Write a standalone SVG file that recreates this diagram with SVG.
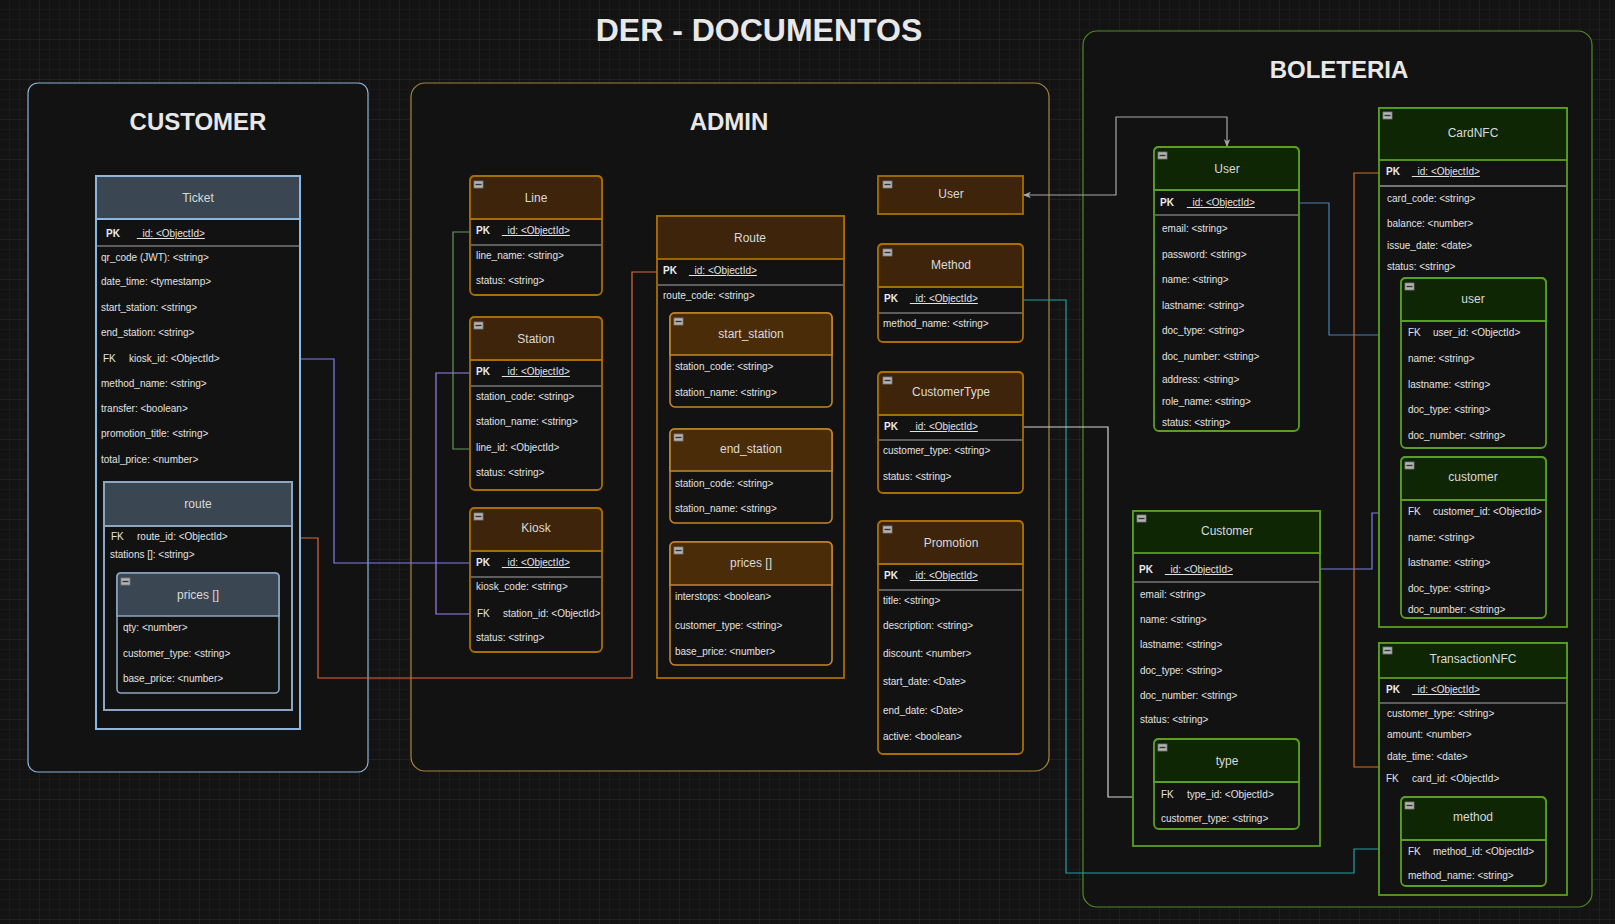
<svg xmlns="http://www.w3.org/2000/svg" width="1615" height="924" viewBox="0 0 1615 924">
<defs>
<pattern id="gmin" width="10" height="10" patternUnits="userSpaceOnUse"><path d="M10,0 V10 H0" fill="none" stroke="#1d1d1d" stroke-width="1"/></pattern>
<pattern id="gmaj" width="40" height="40" patternUnits="userSpaceOnUse"><rect width="40" height="40" fill="url(#gmin)"/><path d="M40,0 V40 H0" fill="none" stroke="#272727" stroke-width="1"/></pattern>
<marker id="arr" viewBox="0 0 10 10" refX="10" refY="5" markerWidth="8" markerHeight="8" markerUnits="userSpaceOnUse" orient="auto-start-reverse"><path d="M0,1 L10,5 L0,9 L3,5 z" fill="#a8a8a8"/></marker>
<g id="minus"><rect x="0" y="0" width="9" height="7" fill="#b4b4b4" stroke="#7a7a7a" stroke-width="0.8"/><line x1="1.5" y1="3.5" x2="7.5" y2="3.5" stroke="#333" stroke-width="1.4"/></g>
</defs>
<style>
text{font-family:"Liberation Sans",Arial,Helvetica,sans-serif}
.big{font-size:32px;font-weight:bold;fill:#e8e8e8;text-anchor:middle}
.sec{font-size:24px;font-weight:bold;fill:#e8e8e8;text-anchor:middle}
.h{font-size:12px;fill:#dadada;text-anchor:middle}
.r{font-size:10px;fill:#e2e2e2}
.pk{font-size:10px;fill:#ececec;font-weight:bold}
.u{text-decoration:underline}
.cont{fill:#121212;stroke-width:1.2}
.cbl{stroke:#8cb4dc;fill:#121212}
.cgo{stroke:#a8843c;fill:#121212}
.cgr{stroke:#4e8c20;fill:#121212}
.tb{fill:#121212;stroke:#8cb8e0;stroke-width:2}
.tbh{fill:#3a4651;stroke:#8cb8e0;stroke-width:2}
.ta{fill:#121212;stroke:#a86e00;stroke-width:1.8}
.tah{fill:#3d240a;stroke:#a86e00;stroke-width:1.8}
.ti{fill:#121212;stroke:#c4862c;stroke-width:1.6}
.tih{fill:#4a2c08;stroke:#c4862c;stroke-width:1.6}
.tg{fill:#121212;stroke:#5a9e22;stroke-width:1.8}
.tgh{fill:#0f2604;stroke:#5a9e22;stroke-width:1.8}
.sep{stroke:#a8a8a8;stroke-width:1.2}
.cn{fill:none;stroke-width:1.2}
</style>
<rect width="1615" height="924" fill="#131313"/>
<rect width="1615" height="924" fill="url(#gmaj)"/>

<text class="big" x="759" y="41">DER - DOCUMENTOS</text>

<g id="customer-container">
<rect class="cont cbl" x="28" y="83" width="340" height="689" rx="10"/>
<text class="sec" x="198" y="130">CUSTOMER</text>
</g>
<g id="admin-container">
<rect class="cont cgo" x="411" y="83" width="638" height="688" rx="14"/>
<text class="sec" x="729" y="130">ADMIN</text>
</g>
<g id="boleteria-container">
<rect class="cont cgr" x="1083" y="31" width="509" height="876" rx="14"/>
<text class="sec" x="1339" y="78">BOLETERIA</text>
</g>

<g id="connectors">
<path class="cn" stroke="#7c80ee" d="M300,359 H334 V563 H470"/>
<path class="cn" stroke="#e0683a" d="M292,538 H318 V678 H632 V272 H657"/>
<path class="cn" stroke="#66985a" d="M470,232 H453 V449 H470"/>
<path class="cn" stroke="#a07ef0" d="M470,373 H436 V614 H470"/>
<path class="cn" stroke="#a8a8a8" d="M1227,147 V117 H1116 V195 H1023" marker-start="url(#arr)" marker-end="url(#arr)"/>
<path class="cn" stroke="#22a0a0" d="M1023,300 H1066 V873 H1354 V849 H1401"/>
<path class="cn" stroke="#d4d4d4" d="M1023,427 H1108 V797 H1154"/>
<path class="cn" stroke="#4a82b4" d="M1299,203 H1329 V335 H1401"/>
<path class="cn" stroke="#7a80e4" d="M1320,569 H1372 V513 H1401"/>
<path class="cn" stroke="#d07020" d="M1379,173 H1354 V767 H1379"/>
</g>

<g id="ticket">
<rect class="tb" x="96" y="176" width="204" height="553"/>
<rect class="tbh" x="96" y="176" width="204" height="43"/>
<text class="h" x="198" y="202">Ticket</text>
<line class="sep" x1="97" y1="246" x2="299" y2="246"/>
<text class="pk" x="106" y="237">PK</text><text class="r u" x="137" y="237">_id: &lt;ObjectId&gt;</text>
<text class="r" x="101" y="261">qr_code (JWT): &lt;string&gt;</text>
<text class="r" x="101" y="285">date_time: &lt;tymestamp&gt;</text>
<text class="r" x="101" y="311">start_station: &lt;string&gt;</text>
<text class="r" x="101" y="336">end_station: &lt;string&gt;</text>
<text class="r" x="103" y="362">FK</text><text class="r" x="129" y="362">kiosk_id: &lt;ObjectId&gt;</text>
<text class="r" x="101" y="387">method_name: &lt;string&gt;</text>
<text class="r" x="101" y="412">transfer: &lt;boolean&gt;</text>
<text class="r" x="101" y="437">promotion_title: &lt;string&gt;</text>
<text class="r" x="101" y="463">total_price: &lt;number&gt;</text>
</g>
<g id="ticket-route">
<rect class="tb" x="104" y="482" width="188" height="228" style="stroke:#8aa6c0"/>
<rect class="tbh" x="104" y="482" width="188" height="44" style="stroke:#8aa6c0"/>
<text class="h" x="198" y="508">route</text>
<text class="r" x="111" y="540">FK</text><text class="r" x="137" y="540">route_id: &lt;ObjectId&gt;</text>
<text class="r" x="110" y="558">stations []: &lt;string&gt;</text>
</g>
<g id="ticket-route-prices">
<rect class="tb" x="117" y="573" width="162" height="120" rx="4" style="stroke:#8aa6c0;stroke-width:1.6"/>
<path d="M117,616 V577 Q117,573 121,573 H275 Q279,573 279,577 V616 Z" fill="#3a4651" stroke="#8aa6c0" stroke-width="1.6"/>
<use href="#minus" x="121" y="578"/>
<text class="h" x="198" y="599">prices []</text>
<text class="r" x="123" y="631">qty: &lt;number&gt;</text>
<text class="r" x="123" y="657">customer_type: &lt;string&gt;</text>
<text class="r" x="123" y="682">base_price: &lt;number&gt;</text>
</g>

<g id="line">
<rect class="ta" x="470" y="176" width="132" height="119" rx="5"/>
<path class="tah" d="M470,219 V181 Q470,176 475,176 H597 Q602,176 602,181 V219 Z"/>
<use href="#minus" x="474" y="181"/>
<text class="h" x="536" y="202">Line</text>
<line class="sep" x1="471" y1="245" x2="601" y2="245"/>
<text class="pk" x="476" y="234">PK</text><text class="r u" x="502" y="234">_id: &lt;ObjectId&gt;</text>
<text class="r" x="476" y="259">line_name: &lt;string&gt;</text>
<text class="r" x="476" y="284">status: &lt;string&gt;</text>
</g>
<g id="station">
<rect class="ta" x="470" y="317" width="132" height="173" rx="5"/>
<path class="tah" d="M470,360 V322 Q470,317 475,317 H597 Q602,317 602,322 V360 Z"/>
<use href="#minus" x="474" y="322"/>
<text class="h" x="536" y="343">Station</text>
<line class="sep" x1="471" y1="386" x2="601" y2="386"/>
<text class="pk" x="476" y="375">PK</text><text class="r u" x="502" y="375">_id: &lt;ObjectId&gt;</text>
<text class="r" x="476" y="400">station_code: &lt;string&gt;</text>
<text class="r" x="476" y="425">station_name: &lt;string&gt;</text>
<text class="r" x="476" y="451">line_id: &lt;ObjectId&gt;</text>
<text class="r" x="476" y="476">status: &lt;string&gt;</text>
</g>
<g id="kiosk">
<rect class="ta" x="470" y="508" width="132" height="144" rx="5"/>
<path class="tah" d="M470,551 V513 Q470,508 475,508 H597 Q602,508 602,513 V551 Z"/>
<use href="#minus" x="474" y="513"/>
<text class="h" x="536" y="532">Kiosk</text>
<line class="sep" x1="471" y1="577" x2="601" y2="577"/>
<text class="pk" x="476" y="566">PK</text><text class="r u" x="502" y="566">_id: &lt;ObjectId&gt;</text>
<text class="r" x="476" y="590">kiosk_code: &lt;string&gt;</text>
<text class="r" x="477" y="617">FK</text><text class="r" x="503" y="617">station_id: &lt;ObjectId&gt;</text>
<text class="r" x="476" y="641">status: &lt;string&gt;</text>
</g>

<g id="route">
<rect class="ta" x="657" y="216" width="187" height="462"/>
<rect class="tah" x="657" y="216" width="187" height="43"/>
<text class="h" x="750" y="242">Route</text>
<line class="sep" x1="658" y1="285" x2="843" y2="285"/>
<text class="pk" x="663" y="274">PK</text><text class="r u" x="689" y="274">_id: &lt;ObjectId&gt;</text>
<text class="r" x="663" y="299">route_code: &lt;string&gt;</text>
</g>
<g id="route-start-station">
<rect class="ti" x="670" y="313" width="162" height="94" rx="5"/>
<path class="tih" d="M670,355 V318 Q670,313 675,313 H827 Q832,313 832,318 V355 Z"/>
<use href="#minus" x="674" y="318"/>
<text class="h" x="751" y="338">start_station</text>
<text class="r" x="675" y="370">station_code: &lt;string&gt;</text>
<text class="r" x="675" y="396">station_name: &lt;string&gt;</text>
</g>
<g id="route-end-station">
<rect class="ti" x="670" y="429" width="162" height="94" rx="5"/>
<path class="tih" d="M670,471 V434 Q670,429 675,429 H827 Q832,429 832,434 V471 Z"/>
<use href="#minus" x="674" y="434"/>
<text class="h" x="751" y="453">end_station</text>
<text class="r" x="675" y="487">station_code: &lt;string&gt;</text>
<text class="r" x="675" y="512">station_name: &lt;string&gt;</text>
</g>
<g id="route-prices">
<rect class="ti" x="670" y="542" width="162" height="123" rx="5"/>
<path class="tih" d="M670,585 V547 Q670,542 675,542 H827 Q832,542 832,547 V585 Z"/>
<use href="#minus" x="674" y="547"/>
<text class="h" x="751" y="567">prices []</text>
<text class="r" x="675" y="600">interstops: &lt;boolean&gt;</text>
<text class="r" x="675" y="629">customer_type: &lt;string&gt;</text>
<text class="r" x="675" y="655">base_price: &lt;number&gt;</text>
</g>

<g id="admin-user">
<rect class="tah" x="878" y="176" width="145" height="38"/>
<use href="#minus" x="883" y="181"/>
<text class="h" x="951" y="198">User</text>
</g>
<g id="method">
<rect class="ta" x="878" y="244" width="145" height="98" rx="5"/>
<path class="tah" d="M878,287 V249 Q878,244 883,244 H1018 Q1023,244 1023,249 V287 Z"/>
<use href="#minus" x="883" y="249"/>
<text class="h" x="951" y="269">Method</text>
<line class="sep" x1="879" y1="313" x2="1022" y2="313"/>
<text class="pk" x="884" y="302">PK</text><text class="r u" x="910" y="302">_id: &lt;ObjectId&gt;</text>
<text class="r" x="883" y="327">method_name: &lt;string&gt;</text>
</g>
<g id="customertype">
<rect class="ta" x="878" y="372" width="145" height="121" rx="5"/>
<path class="tah" d="M878,415 V377 Q878,372 883,372 H1018 Q1023,372 1023,377 V415 Z"/>
<use href="#minus" x="883" y="377"/>
<text class="h" x="951" y="396">CustomerType</text>
<line class="sep" x1="879" y1="440" x2="1022" y2="440"/>
<text class="pk" x="884" y="430">PK</text><text class="r u" x="910" y="430">_id: &lt;ObjectId&gt;</text>
<text class="r" x="883" y="454">customer_type: &lt;string&gt;</text>
<text class="r" x="883" y="480">status: &lt;string&gt;</text>
</g>
<g id="promotion">
<rect class="ta" x="878" y="521" width="145" height="233" rx="5"/>
<path class="tah" d="M878,564 V526 Q878,521 883,521 H1018 Q1023,521 1023,526 V564 Z"/>
<use href="#minus" x="883" y="526"/>
<text class="h" x="951" y="547">Promotion</text>
<line class="sep" x1="879" y1="590" x2="1022" y2="590"/>
<text class="pk" x="884" y="579">PK</text><text class="r u" x="910" y="579">_id: &lt;ObjectId&gt;</text>
<text class="r" x="883" y="604">title: &lt;string&gt;</text>
<text class="r" x="883" y="629">description: &lt;string&gt;</text>
<text class="r" x="883" y="657">discount: &lt;number&gt;</text>
<text class="r" x="883" y="685">start_date: &lt;Date&gt;</text>
<text class="r" x="883" y="714">end_date: &lt;Date&gt;</text>
<text class="r" x="883" y="740">active: &lt;boolean&gt;</text>
</g>

<g id="bol-user">
<rect class="tg" x="1154" y="147" width="145" height="284" rx="5"/>
<path class="tgh" d="M1154,190 V152 Q1154,147 1159,147 H1294 Q1299,147 1299,152 V190 Z"/>
<use href="#minus" x="1158" y="152"/>
<text class="h" x="1227" y="173">User</text>
<line class="sep" x1="1155" y1="215" x2="1298" y2="215"/>
<text class="pk" x="1160" y="206">PK</text><text class="r u" x="1187" y="206">_id: &lt;ObjectId&gt;</text>
<text class="r" x="1162" y="232">email: &lt;string&gt;</text>
<text class="r" x="1162" y="258">password: &lt;string&gt;</text>
<text class="r" x="1162" y="283">name: &lt;string&gt;</text>
<text class="r" x="1162" y="309">lastname: &lt;string&gt;</text>
<text class="r" x="1162" y="334">doc_type: &lt;string&gt;</text>
<text class="r" x="1162" y="360">doc_number: &lt;string&gt;</text>
<text class="r" x="1162" y="383">address: &lt;string&gt;</text>
<text class="r" x="1162" y="405">role_name: &lt;string&gt;</text>
<text class="r" x="1162" y="426">status: &lt;string&gt;</text>
</g>
<g id="bol-customer">
<rect class="tg" x="1133" y="511" width="187" height="335"/>
<rect class="tgh" x="1133" y="511" width="187" height="42"/>
<use href="#minus" x="1137" y="515"/>
<text class="h" x="1227" y="535">Customer</text>
<line class="sep" x1="1134" y1="582" x2="1319" y2="582"/>
<text class="pk" x="1139" y="573">PK</text><text class="r u" x="1165" y="573">_id: &lt;ObjectId&gt;</text>
<text class="r" x="1140" y="598">email: &lt;string&gt;</text>
<text class="r" x="1140" y="623">name: &lt;string&gt;</text>
<text class="r" x="1140" y="648">lastname: &lt;string&gt;</text>
<text class="r" x="1140" y="674">doc_type: &lt;string&gt;</text>
<text class="r" x="1140" y="699">doc_number: &lt;string&gt;</text>
<text class="r" x="1140" y="723">status: &lt;string&gt;</text>
</g>
<g id="bol-customer-type">
<rect class="tg" x="1154" y="739" width="145" height="90" rx="5"/>
<path class="tgh" d="M1154,782 V744 Q1154,739 1159,739 H1294 Q1299,739 1299,744 V782 Z"/>
<use href="#minus" x="1158" y="744"/>
<text class="h" x="1227" y="765">type</text>
<text class="r" x="1161" y="798">FK</text><text class="r" x="1187" y="798">type_id: &lt;ObjectId&gt;</text>
<text class="r" x="1161" y="822">customer_type: &lt;string&gt;</text>
</g>

<g id="cardnfc">
<rect class="tg" x="1379" y="108" width="188" height="519"/>
<rect class="tgh" x="1379" y="108" width="188" height="52"/>
<use href="#minus" x="1383" y="112"/>
<text class="h" x="1473" y="137">CardNFC</text>
<line class="sep" x1="1380" y1="186" x2="1566" y2="186" style="stroke:#d8d8d8"/>
<text class="pk" x="1386" y="175">PK</text><text class="r u" x="1412" y="175">_id: &lt;ObjectId&gt;</text>
<text class="r" x="1387" y="202">card_code: &lt;string&gt;</text>
<text class="r" x="1387" y="227">balance: &lt;number&gt;</text>
<text class="r" x="1387" y="249">issue_date: &lt;date&gt;</text>
<text class="r" x="1387" y="270">status: &lt;string&gt;</text>
</g>
<g id="cardnfc-user">
<rect class="tg" x="1401" y="278" width="145" height="170" rx="5"/>
<path class="tgh" d="M1401,321 V283 Q1401,278 1406,278 H1541 Q1546,278 1546,283 V321 Z"/>
<use href="#minus" x="1405" y="283"/>
<text class="h" x="1473" y="303">user</text>
<text class="r" x="1408" y="336">FK</text><text class="r" x="1433" y="336">user_id: &lt;ObjectId&gt;</text>
<text class="r" x="1408" y="362">name: &lt;string&gt;</text>
<text class="r" x="1408" y="388">lastname: &lt;string&gt;</text>
<text class="r" x="1408" y="413">doc_type: &lt;string&gt;</text>
<text class="r" x="1408" y="439">doc_number: &lt;string&gt;</text>
</g>
<g id="cardnfc-customer">
<rect class="tg" x="1401" y="457" width="145" height="161" rx="5"/>
<path class="tgh" d="M1401,500 V462 Q1401,457 1406,457 H1541 Q1546,457 1546,462 V500 Z"/>
<use href="#minus" x="1405" y="462"/>
<text class="h" x="1473" y="481">customer</text>
<text class="r" x="1408" y="515">FK</text><text class="r" x="1433" y="515">customer_id: &lt;ObjectId&gt;</text>
<text class="r" x="1408" y="541">name: &lt;string&gt;</text>
<text class="r" x="1408" y="566">lastname: &lt;string&gt;</text>
<text class="r" x="1408" y="592">doc_type: &lt;string&gt;</text>
<text class="r" x="1408" y="613">doc_number: &lt;string&gt;</text>
</g>

<g id="transactionnfc">
<rect class="tg" x="1379" y="643" width="188" height="252"/>
<rect class="tgh" x="1379" y="643" width="188" height="35"/>
<use href="#minus" x="1383" y="647"/>
<text class="h" x="1473" y="663">TransactionNFC</text>
<line class="sep" x1="1380" y1="703" x2="1566" y2="703"/>
<text class="pk" x="1386" y="693">PK</text><text class="r u" x="1412" y="693">_id: &lt;ObjectId&gt;</text>
<text class="r" x="1387" y="717">customer_type: &lt;string&gt;</text>
<text class="r" x="1387" y="738">amount: &lt;number&gt;</text>
<text class="r" x="1387" y="760">date_time: &lt;date&gt;</text>
<text class="r" x="1386" y="782">FK</text><text class="r" x="1412" y="782">card_id: &lt;ObjectId&gt;</text>
</g>
<g id="transactionnfc-method">
<rect class="tg" x="1401" y="797" width="145" height="89" rx="5"/>
<path class="tgh" d="M1401,840 V802 Q1401,797 1406,797 H1541 Q1546,797 1546,802 V840 Z"/>
<use href="#minus" x="1405" y="802"/>
<text class="h" x="1473" y="821">method</text>
<text class="r" x="1408" y="855">FK</text><text class="r" x="1433" y="855">method_id: &lt;ObjectId&gt;</text>
<text class="r" x="1408" y="879">method_name: &lt;string&gt;</text>
</g>
</svg>
